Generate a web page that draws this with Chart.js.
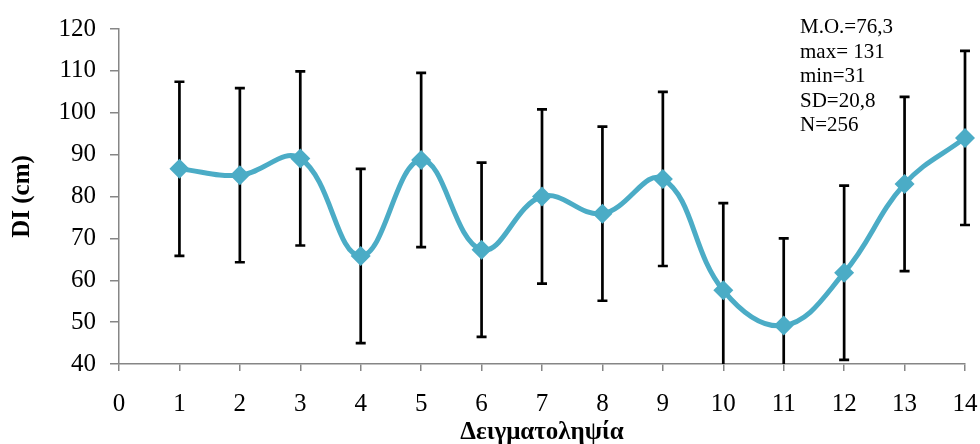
<!DOCTYPE html>
<html lang="el">
<head>
  <meta charset="UTF-8" />
  <title>DI ανά δειγματοληψία</title>
  <script src="https://cdn.jsdelivr.net/npm/chart.js"></script>
  <style>
    * { margin: 0; padding: 0; box-sizing: border-box; }
    body { background: #fff; width: 980px; height: 444px; overflow: hidden; }
    .wrap { position: relative; width: 980px; height: 444px; }
    .stats {
      position: absolute;
      left: 800px;
      top: 14px;
      font-family: 'Liberation Serif', 'Times New Roman', serif;
      font-size: 21px;
      line-height: 24.5px;
      color: #000;
    }
  </style>
</head>
<body>
  <div class="wrap">
    <canvas id="diChart" width="980" height="444"></canvas>
    <div class="stats" id="stats"></div>
  </div>

  <script>
    // data
    const samples = [1, 2, 3, 4, 5, 6, 7, 8, 9, 10, 11, 12, 13, 14];
    const meanDI = [86.6, 85.1, 89.1, 65.8, 88.7, 67.3, 80.0, 75.9, 84.2, 57.6, 49.2, 61.8, 83.0, 94.0];
    const sdDI = [20.8, 20.8, 20.8, 20.8, 20.8, 20.8, 20.8, 20.8, 20.8, 20.8, 20.8, 20.8, 20.8, 20.8];
    const statLines = ['M.O.=76,3', 'max= 131', 'min=31', 'SD=20,8', 'N=256'];

    document.getElementById('stats').innerHTML = statLines.join('<br>');

    const serif = "'Liberation Serif', 'Times New Roman', serif";
    const axisGray = '#868686';

    // error bars, drawn under the line, cut at the top/bottom of the plot
    const errorBars = {
      id: 'errorBars',
      beforeDatasetsDraw(chart) {
        const { ctx, chartArea, scales } = chart;
        ctx.save();
        ctx.beginPath();
        ctx.rect(0, chartArea.top, chart.width, chartArea.bottom - chartArea.top);
        ctx.clip();
        ctx.strokeStyle = '#000';
        ctx.lineWidth = 2.7;
        samples.forEach((s, i) => {
          const x = scales.x.getPixelForValue(s);
          const yHi = scales.y.getPixelForValue(meanDI[i] + sdDI[i]);
          const yLo = scales.y.getPixelForValue(meanDI[i] - sdDI[i]);
          ctx.beginPath();
          ctx.moveTo(x, yHi);
          ctx.lineTo(x, yLo);
          ctx.moveTo(x - 5, yHi);
          ctx.lineTo(x + 5, yHi);
          ctx.moveTo(x - 5, yLo);
          ctx.lineTo(x + 5, yLo);
          ctx.stroke();
        });
        ctx.restore();
      }
    };

    new Chart(document.getElementById('diChart'), {
      type: 'line',
      data: {
        datasets: [{
          data: samples.map((s, i) => ({ x: s, y: meanDI[i] })),
          borderColor: '#4BACC6',
          backgroundColor: '#4BACC6',
          borderWidth: 5,
          tension: 0.4,
          pointStyle: 'rectRot',
          pointRadius: 10,
          pointHoverRadius: 10,
          pointBorderWidth: 0
        }]
      },
      options: {
        responsive: false,
        animation: false,
        clip: false,
        layout: { padding: { top: 25, right: 15, left: 0, bottom: 0 } },
        plugins: { legend: { display: false }, tooltip: { enabled: false } },
        scales: {
          x: {
            type: 'linear',
            min: 0,
            max: 14,
            afterFit: (scale) => {
              scale.height = 80;
              scale.paddingRight = 0;
              scale.paddingLeft = 0;
            },
            border: { color: axisGray, width: 1.5 },
            grid: { drawOnChartArea: false, tickLength: 7, color: axisGray, lineWidth: 1.5 },
            ticks: {
              stepSize: 1,
              padding: 18,
              color: '#000',
              font: { family: serif, size: 25 }
            },
            title: {
              display: true,
              text: 'Δειγματοληψία',
              color: '#000',
              padding: { top: 0, bottom: -4 },
              font: { family: serif, size: 25, weight: 'bold' }
            }
          },
          y: {
            min: 40,
            max: 120,
            afterFit: (scale) => { scale.width = 119; },
            border: { color: axisGray, width: 1.5 },
            grid: { drawOnChartArea: false, tickLength: 9, color: axisGray, lineWidth: 1.5 },
            ticks: {
              stepSize: 10,
              padding: 14,
              color: '#000',
              font: { family: serif, size: 25 }
            },
            title: {
              display: true,
              text: 'DI (cm)',
              color: '#000',
              padding: { top: 8, bottom: 0 },
              font: { family: serif, size: 25, weight: 'bold' }
            }
          }
        }
      },
      plugins: [errorBars]
    });
  </script>
</body>
</html>
